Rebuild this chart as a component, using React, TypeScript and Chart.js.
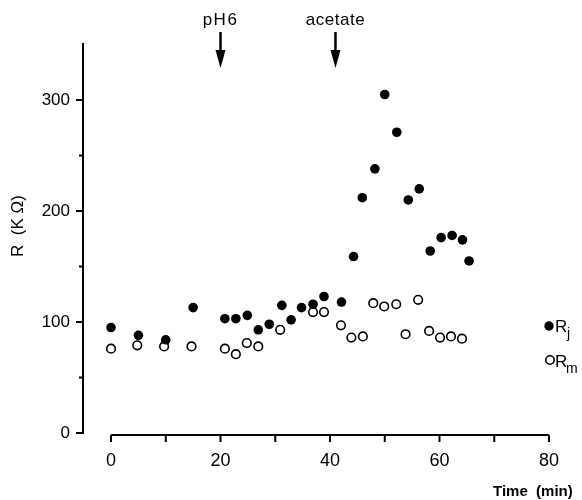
import React, { useEffect, useRef } from "react";
import { Chart, registerables } from "chart.js";

Chart.register(...registerables);

// Rj (filled circles)
const rjTime = [0, 5, 10, 15, 20.8, 22.8, 24.9, 26.9, 28.9, 31.2, 32.9, 34.8, 36.9, 38.9, 42.1, 44.3, 45.9, 48.2, 50, 52.2, 54.3, 56.3, 58.3, 60.3, 62.3, 64.2, 65.4];
const rjValue = [95, 88, 84, 113, 103, 103, 106, 93, 98, 115, 102, 113, 116, 123, 118, 159, 212, 238, 305, 271, 210, 220, 164, 176, 178, 174, 155];

// Rm (open circles)
const rmTime = [0, 4.8, 9.7, 14.7, 20.8, 22.8, 24.8, 26.9, 30.9, 36.9, 38.9, 42, 43.9, 46, 47.9, 49.9, 52.1, 53.8, 56.1, 58.1, 60.1, 62.1, 64.1];
const rmValue = [76, 79, 78, 78, 76, 71, 81, 78, 93, 109, 109, 97, 86, 87, 117, 114, 116, 89, 120, 92, 86, 87, 85];

const yMajorTicks = [0, 100, 200, 300];
const yMinorTicks = [50, 150, 250];
const xLabelTicks = [0, 20, 40, 60, 80];
const xAllTicks = [0, 10, 20, 30, 40, 50, 60, 70, 80];
const markerLabels = ["pH6", "acetate"];
const markerTimes = [20, 41];

const FONT = '"Liberation Sans", Arial, sans-serif';

const decorPlugin = {
  id: "decor",
  afterDraw(chart: any) {
    const { ctx, chartArea } = chart;
    const x = chart.scales.x;
    const y = chart.scales.y;
    ctx.save();
    ctx.strokeStyle = "#000";
    ctx.fillStyle = "#000";
    ctx.lineWidth = 2;
    const line = (x1: number, y1: number, x2: number, y2: number) => {
      ctx.beginPath();
      ctx.moveTo(x1, y1);
      ctx.lineTo(x2, y2);
      ctx.stroke();
    };
    // y axis
    const yl = chartArea.left + 1;
    line(yl, chartArea.top, yl, y.getPixelForValue(0) + 1);
    yMajorTicks.forEach((v) => {
      const py = y.getPixelForValue(v);
      line(yl - 7, py, yl, py);
    });
    yMinorTicks.forEach((v) => {
      const py = y.getPixelForValue(v);
      line(yl - 4, py, yl, py);
    });
    // x axis
    const xb = chartArea.bottom - 1;
    line(x.getPixelForValue(0), xb, x.getPixelForValue(80), xb);
    xAllTicks.forEach((v) => {
      const px = x.getPixelForValue(v);
      line(px, xb, px, xb + 7);
    });

    // axis titles
    ctx.font = `17px ${FONT}`;
    ctx.textAlign = "center";
    ctx.textBaseline = "middle";
    ctx.save();
    ctx.translate(18, 226);
    ctx.rotate(-Math.PI / 2);
    ctx.fillText("R  (K Ω)", 0, 0);
    ctx.restore();

    ctx.font = `bold 15px ${FONT}`;
    ctx.textAlign = "left";
    ctx.fillText("Time  (min)", 493, 492);

    // markers (arrows)
    markerLabels.forEach((label, i) => {
      const px = x.getPixelForValue(markerTimes[i]);
      ctx.font = `17px ${FONT}`;
      ctx.textAlign = "center";
      ctx.textBaseline = "middle";
      (ctx as any).letterSpacing = i === 0 ? "1.5px" : "0.5px";
      ctx.fillText(label, px, 20);
      (ctx as any).letterSpacing = "0px";
      ctx.lineWidth = 2.5;
      line(px, 32, px, 55);
      ctx.beginPath();
      ctx.moveTo(px - 5, 50);
      ctx.lineTo(px + 5, 50);
      ctx.lineTo(px, 68);
      ctx.closePath();
      ctx.fill();
    });

    // legend
    ctx.lineWidth = 1.6;
    ctx.beginPath();
    ctx.arc(549, 326, 4.7, 0, Math.PI * 2);
    ctx.fill();
    ctx.beginPath();
    ctx.arc(550, 360, 4.2, 0, Math.PI * 2);
    ctx.stroke();
    ctx.textAlign = "left";
    ctx.textBaseline = "alphabetic";
    ctx.font = `17px ${FONT}`;
    ctx.fillText("R", 555, 332);
    ctx.fillText("R", 555, 367);
    ctx.font = `14px ${FONT}`;
    ctx.fillText("j", 567, 338);
    ctx.fillText("m", 566, 373);
    ctx.restore();
  },
};

export default function App() {
  const canvasRef = useRef<HTMLCanvasElement | null>(null);

  useEffect(() => {
    const canvas = canvasRef.current;
    if (!canvas) return;
    const chart = new Chart(canvas, {
      type: "scatter",
      data: {
        datasets: [
          {
            label: "Rj",
            data: rjTime.map((t, i) => ({ x: t, y: rjValue[i] })),
            backgroundColor: "#000",
            borderColor: "#000",
            borderWidth: 0,
            pointRadius: 4.8,
          },
          {
            label: "Rm",
            data: rmTime.map((t, i) => ({ x: t, y: rmValue[i] })),
            backgroundColor: "#fff",
            borderColor: "#000",
            borderWidth: 1.6,
            pointRadius: 4.3,
          },
        ],
      },
      options: {
        animation: false,
        responsive: false,
        maintainAspectRatio: false,
        layout: { padding: { top: 43, right: 33, left: 0, bottom: 0 } },
        plugins: { legend: { display: false }, tooltip: { enabled: false } },
        scales: {
          x: {
            type: "linear",
            min: -5.3,
            max: 80,
            grid: { display: false, drawTicks: false },
            border: { display: false },
            afterBuildTicks: (s: any) => {
              s.ticks = xLabelTicks.map((v) => ({ value: v }));
            },
            afterFit: (s: any) => {
              s.height = 64;
            },
            ticks: {
              padding: 14,
              color: "#000",
              font: { family: FONT, size: 18 },
              maxRotation: 0,
              callback: (v: any) => String(v),
            },
          },
          y: {
            type: "linear",
            min: -2.7,
            max: 351.4,
            grid: { display: false, drawTicks: false },
            border: { display: false },
            afterBuildTicks: (s: any) => {
              s.ticks = yMajorTicks.map((v) => ({ value: v }));
            },
            afterFit: (s: any) => {
              s.width = 82;
            },
            ticks: {
              padding: 12,
              color: "#000",
              font: { family: FONT, size: 17 },
              callback: (v: any) => String(v),
            },
          },
        },
      },
      plugins: [decorPlugin],
    });
    return () => chart.destroy();
  }, []);

  return (
    <div style={{ position: "fixed", left: 0, top: 0, width: 582, height: 500, background: "#fff" }}>
      <canvas ref={canvasRef} width={582} height={500} style={{ width: 582, height: 500 }} />
    </div>
  );
}
